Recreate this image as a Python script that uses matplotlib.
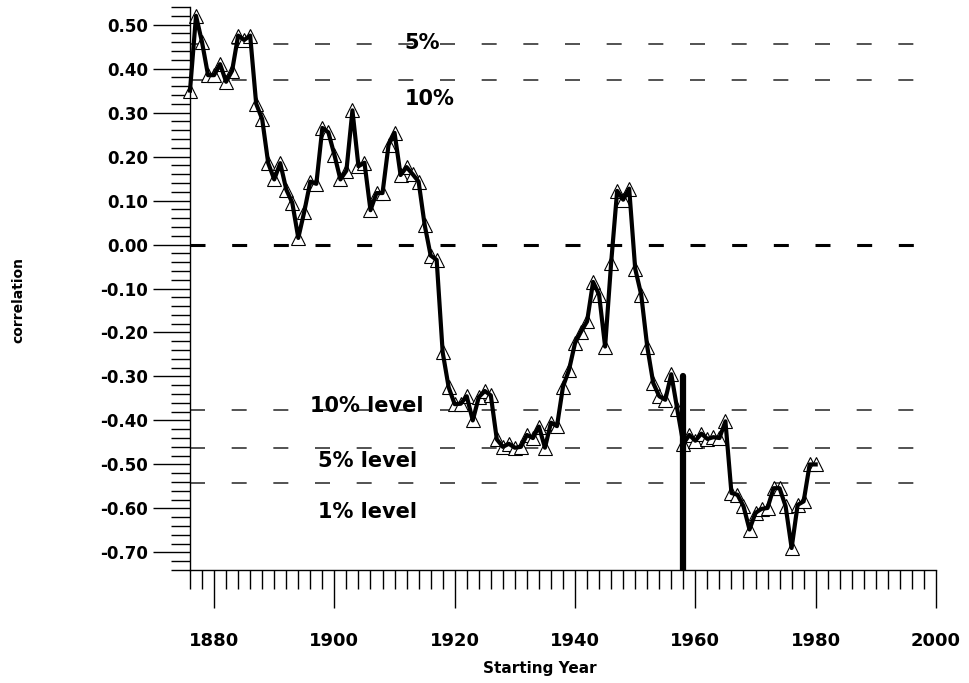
import matplotlib
matplotlib.use("Agg")
import matplotlib.pyplot as plt
from matplotlib.ticker import FixedLocator, FormatStrFormatter

plt.rcParams['font.family'] = ['DejaVu Sans']
plt.rcParams['axes.unicode_minus'] = False
plt.rcParams['lines.scale_dashes'] = False

# starting year of each window and its correlation
years = list(range(1876, 1981))
corr = [
    0.35, 0.52, 0.46, 0.385, 0.385, 0.41, 0.37, 0.395, 0.475, 0.465,   # 1876-1885
    0.475, 0.32, 0.285, 0.185, 0.148, 0.185, 0.125, 0.095, 0.015, 0.075,  # 1886-1895
    0.143, 0.138, 0.265, 0.255, 0.204, 0.148, 0.168, 0.305, 0.178, 0.186,  # 1896-1905
    0.078, 0.117, 0.117, 0.226, 0.254, 0.158, 0.176, 0.16, 0.143, 0.045,   # 1906-1915
    -0.025, -0.035, -0.245, -0.325, -0.363, -0.362, -0.345, -0.40, -0.347, -0.333,  # 1916-1925
    -0.343, -0.443, -0.46, -0.453, -0.462, -0.46, -0.433, -0.44, -0.414, -0.462,    # 1926-1935
    -0.405, -0.413, -0.323, -0.285, -0.224, -0.198, -0.175, -0.085, -0.114, -0.232,  # 1936-1945
    -0.042, 0.122, 0.102, 0.127, -0.055, -0.114, -0.232, -0.315, -0.345, -0.353,    # 1946-1955
    -0.295, -0.375, -0.453, -0.433, -0.446, -0.43, -0.442, -0.438, -0.44, -0.402,   # 1956-1965
    -0.565, -0.569, -0.595, -0.648, -0.61, -0.601, -0.599, -0.554, -0.554, -0.595,  # 1966-1975
    -0.69, -0.592, -0.584, -0.50, -0.50,                                            # 1976-1980
]

# significance levels
upper_levels = [0.455, 0.375]
lower_levels = [-0.376, -0.462, -0.542]
level_labels = ["10% level", "5% level", "1% level"]

marker_year = 1958
marker_top = -0.30

x_ticks = [1880, 1900, 1920, 1940, 1960, 1980, 2000]
y_ticks = [v / 100 for v in range(-70, 51, 10)]

fig = plt.figure(figsize=(9.69, 6.83), dpi=100)
ax = fig.add_axes([190 / 969, 1 - 570 / 683, 746 / 969, 563 / 683])

x0, x1 = 1876, 2000
dash = (10.8, 19.2)

ax.plot([x0, x1], [0, 0], color="black", lw=2.2, dashes=dash, zorder=1)
for lv in upper_levels + lower_levels:
    ax.plot([x0, x1], [lv, lv], color="#444444", lw=1.3, dashes=dash, zorder=1)

ax.plot(years, corr, linestyle="none", marker="^", ms=9.5, mfc="white",
        mec="black", mew=0.8, zorder=2, clip_on=False)
ax.plot(years, corr, color="black", lw=3.0, solid_joinstyle="round",
        zorder=3, clip_on=False)

ax.plot([marker_year, marker_year], [-0.74, marker_top], color="black",
        lw=4.5, solid_capstyle="round", zorder=4)

txt = dict(fontsize=15, fontweight="bold", va="center", ha="left", zorder=5)
ax.text(1911.7, 0.458, "5%", **txt)
ax.text(1911.7, 0.331, "10%", **txt)
ax.text(1896.0, -0.367, level_labels[0], **txt)
ax.text(1897.3, -0.492, level_labels[1], **txt)
ax.text(1897.3, -0.607, level_labels[2], **txt)

ax.set_xlim(x0, x1)
ax.set_ylim(-0.74, 0.54)

ax.xaxis.set_major_locator(FixedLocator(x_ticks))
ax.xaxis.set_minor_locator(FixedLocator(list(range(1876, 2001, 2))))
ax.yaxis.set_major_locator(FixedLocator(y_ticks))
ax.yaxis.set_minor_locator(FixedLocator([v / 100 for v in range(-74, 55, 2)]))
ax.yaxis.set_major_formatter(FormatStrFormatter("%.2f"))

ax.tick_params(axis="both", which="major", length=27, width=1.0, direction="out")
ax.tick_params(axis="both", which="minor", length=13.5, width=1.0, direction="out")
ax.tick_params(axis="x", which="major", pad=18, labelsize=13)
ax.tick_params(axis="y", which="major", pad=3, labelsize=12)
for lab in ax.get_xticklabels() + ax.get_yticklabels():
    lab.set_fontweight("bold")

for s in ["top", "right"]:
    ax.spines[s].set_visible(False)
for s in ["left", "bottom"]:
    ax.spines[s].set_linewidth(1.0)

fig.text(540 / 969, 1 - 668 / 683, "Starting Year", fontsize=11,
         fontweight="bold", ha="center", va="center")
fig.text(18 / 969, 1 - 300 / 683, "correlation", fontsize=10,
         fontweight="bold", ha="center", va="center", rotation=90)

fig.savefig("out.png", dpi=100)
